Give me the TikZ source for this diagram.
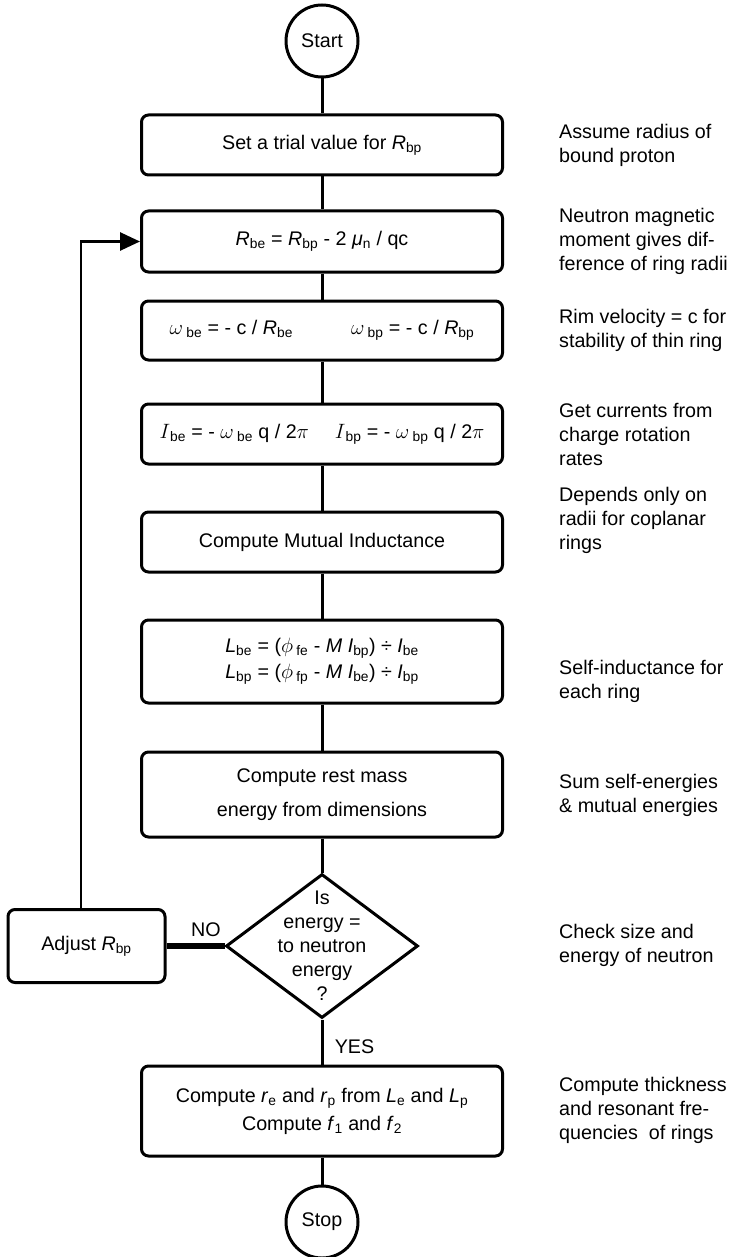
\documentclass[tikz,border=0pt]{standalone}
\usepackage{fontspec}
\setmainfont{Liberation Sans}
\usetikzlibrary{shapes.geometric,arrows.meta,positioning}
\tikzset{
  every node/.style={font=\fontsize{19.7}{24}\selectfont},
  process/.style={draw,line width=3pt,rounded corners=7pt,minimum width=361pt,align=center,inner sep=0pt},
  terminal/.style={draw,circle,line width=3pt,minimum size=72pt,inner sep=0pt},
  decision/.style={draw,diamond,line width=3pt,minimum width=192pt,minimum height=144pt,inner sep=0pt},
  note/.style={anchor=west,align=left,inner sep=0pt}
}
\newcommand{\sbs}[1]{\textsubscript{#1}}
\begin{document}
\begin{tikzpicture}[x=1pt,y=-1pt]
      \useasboundingbox (0,0) rectangle (730,1257);
      % main column
      \node[terminal] (start) at (322,41) {Start};
      \node[process,minimum height=60pt] (trial) at (322,145) {Set a trial value for \textit{R}\sbs{bp}};
      \node[process,minimum height=61pt] (mag) at (322,241.5) {\textit{R}\sbs{be} = \textit{R}\sbs{bp} - 2 \textit{μ}\sbs{n} / qc};
      \node[process,minimum height=59pt] (omega) at (322,330.5)
        {$\omega$\,\sbs{be} = - c / \textit{R}\sbs{be}\hspace{58pt}$\omega$\,\sbs{bp} = - c / \textit{R}\sbs{bp}};
      \node[process,minimum height=60pt] (curr) at (322,434)
        {$I$\sbs{be} = - $\omega$\,\sbs{be} q / 2$\pi$\hspace{26pt}$I$\sbs{bp} = - $\omega$\,\sbs{bp} q / 2$\pi$};
      \node[process,minimum height=60pt] (mutual) at (322,542) {Compute Mutual Inductance};
      \node[process,minimum height=83pt] (self) at (322,661.5)
        {\textit{L}\sbs{be} = ($\phi$\,\sbs{fe} - \textit{M I}\sbs{bp}) ÷ \textit{I}\sbs{be}\\[2pt]
         \textit{L}\sbs{bp} = ($\phi$\,\sbs{fp} - \textit{M I}\sbs{be}) ÷ \textit{I}\sbs{bp}};
      \node[process,minimum height=85pt] (rest) at (322,794.5) {Compute rest mass\\[10pt]energy from dimensions};
      \node[decision,label={[align=center]center:{Is\\energy =\\to neutron\\energy\\?}}] (check) at (322,946) {};
      \node[process,minimum width=157pt,minimum height=73pt] (adjust) at (86.5,946) {Adjust \textit{R}\sbs{bp}};
      \node[process,minimum height=90pt] (final) at (322,1111)
        {Compute \textit{r}\sbs{e} and \textit{r}\sbs{p} from \textit{L}\sbs{e} and \textit{L}\sbs{p}\\[4pt]
         Compute \textit{f}\sbs{1} and \textit{f}\sbs{2}};
      \node[terminal] (stop) at (322,1222) {Stop};
      % side notes
      \node[note] (n1) at (559,145) {Assume radius of\\bound proton};
      \node[note] (n2) at (559,241.5) {Neutron magnetic\\moment gives dif-\\ference of ring radii};
      \node[note] (n3) at (559,330.5) {Rim velocity = c for\\stability of thin ring};
      \node[note] (n4) at (559,434) {Get currents from\\charge rotation\\rates};
      \node[note] (n5) at (559,520) {Depends only on\\radii for coplanar\\rings};
      \node[note] (n6) at (559,681) {Self-inductance for\\each ring};
      \node[note] (n7) at (559,795) {Sum self-energies\\\& mutual energies};
      \node[note] (n8) at (559,945) {Check size and\\energy of neutron};
      \node[note] (n9) at (559,1110) {Compute thickness\\and resonant fre-\\quencies\ \ of rings};
      \begin{scope}[line width=3pt]
        \draw (start) to (trial);
        \draw (trial) to (mag);
        \draw (mag) to (omega);
        \draw (omega) to (curr);
        \draw (curr) to (mutual);
        \draw (mutual) to (self);
        \draw (self) to (rest);
        \draw (rest) to (check);
        \draw (check) to node[pos=0.6,right=8pt]{YES} (final);
        \draw (final) to (stop);
        \draw[line width=5.5pt] (adjust) to node[pos=0.68,above=3pt]{NO} (check);
        \draw[line width=2.7pt,-{Triangle[length=20pt,width=18pt]}] ([xshift=-5.5pt]adjust.north) |- (mag.west);
      \end{scope}
    \end{tikzpicture}
\end{document}
